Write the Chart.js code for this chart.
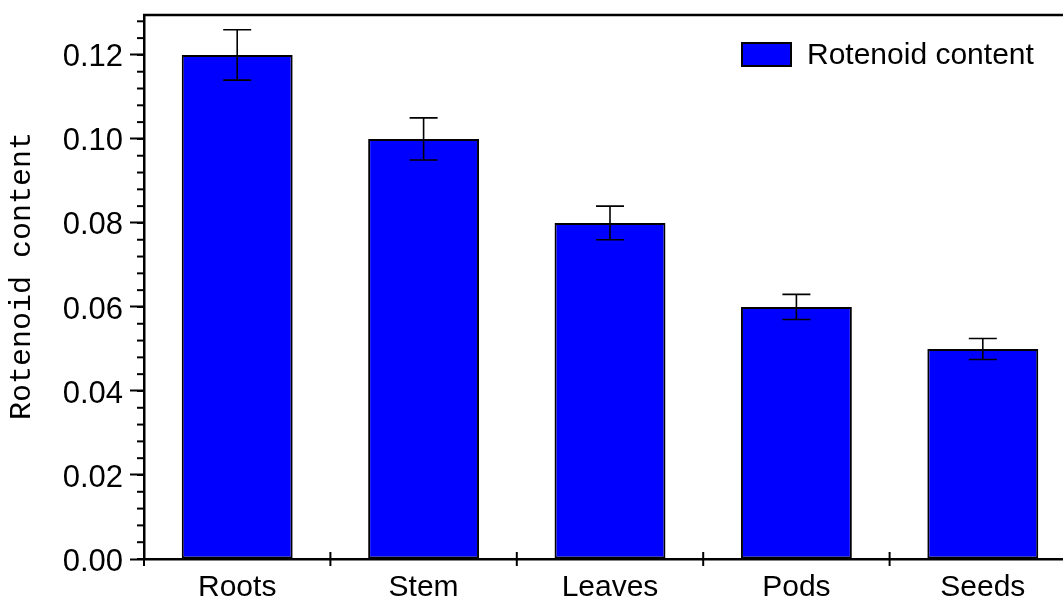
<!DOCTYPE html>
<html>
<head>
<meta charset="utf-8">
<script src="https://cdn.jsdelivr.net/npm/chart.js@4/dist/chart.umd.min.js"></script>
<style>
html,body{margin:0;padding:0;overflow:hidden;background:#fff;width:1063px;height:598px;}
#wrap{width:1080px;height:598px;}
</style>
</head>
<body>
<div id="wrap"><canvas id="c" width="1080" height="598"></canvas></div>
<script>
const categories = ["Roots", "Stem", "Leaves", "Pods", "Seeds"];
const values = [0.12, 0.10, 0.08, 0.06, 0.05];
const errors = [0.006, 0.005, 0.004, 0.003, 0.0025];
const seriesLabel = "Rotenoid content";
const axisTitle = "Rotenoid content";
const yMajorTicks = [0, 0.02, 0.04, 0.06, 0.08, 0.10, 0.12];

const FONT = "Liberation Sans, Arial, sans-serif";

const decor = {
  id: 'decor',
  afterDatasetsDraw(chart) {
    const ctx = chart.ctx;
    const xs = chart.scales.x, ys = chart.scales.y;
    const meta = chart.getDatasetMeta(0);
    ctx.save();
    // error bars
    ctx.strokeStyle = '#000';
    ctx.lineWidth = 1.6;
    meta.data.forEach((bar, i) => {
      const x = bar.x;
      const yt = ys.getPixelForValue(values[i] + errors[i]);
      const yb = ys.getPixelForValue(values[i] - errors[i]);
      ctx.beginPath();
      ctx.moveTo(x, yt); ctx.lineTo(x, yb);
      ctx.moveTo(x - 14, yt); ctx.lineTo(x + 14, yt);
      ctx.moveTo(x - 14, yb); ctx.lineTo(x + 14, yb);
      ctx.stroke();
    });
    const ca = chart.chartArea;
    // top frame
    ctx.lineWidth = 2.5;
    ctx.beginPath();
    ctx.moveTo(ca.left - 1, ca.top); ctx.lineTo(ca.right, ca.top);
    ctx.stroke();
    // minor y ticks
    ctx.lineWidth = 2;
    for (let k = 0; k <= 32; k++) {
      const v = k * 0.004;
      if (v > ys.max) break;
      const y = ys.getPixelForValue(v);
      ctx.beginPath();
      ctx.moveTo(ca.left - 7, y); ctx.lineTo(ca.left, y);
      ctx.stroke();
    }
    // x ticks at category boundaries
    for (let i = 0; i <= categories.length; i++) {
      let x;
      if (i === 0) x = ca.left;
      else if (i === categories.length) x = ca.right;
      else x = (xs.getPixelForValue(i - 1) + xs.getPixelForValue(i)) / 2;
      ctx.beginPath();
      ctx.moveTo(x, ca.bottom - (i === 0 ? 0 : 7)); ctx.lineTo(x, ca.bottom + 7);
      ctx.stroke();
    }
    // y axis title
    ctx.save();
    ctx.translate(22, 276);
    ctx.rotate(-Math.PI / 2);
    ctx.fillStyle = '#000';
    ctx.font = "30px 'Liberation Mono', 'Courier New', monospace";
    ctx.textAlign = 'center';
    ctx.textBaseline = 'middle';
    ctx.fillText(axisTitle, 0, 0);
    ctx.restore();
    // legend
    const ds = chart.data.datasets[0];
    ctx.fillStyle = ds.backgroundColor;
    ctx.fillRect(742, 43, 49, 23);
    ctx.strokeStyle = '#000';
    ctx.lineWidth = 2;
    ctx.strokeRect(742, 43, 49, 23);
    ctx.fillStyle = '#000';
    ctx.font = '30px ' + FONT;
    ctx.textBaseline = 'middle';
    ctx.textAlign = 'left';
    ctx.fillText(ds.label, 807, 56);
    ctx.restore();
  }
};

new Chart(document.getElementById('c'), {
  type: 'bar',
  data: {
    labels: categories,
    datasets: [{
      label: seriesLabel,
      data: values,
      backgroundColor: '#0000FF',
      borderColor: '#000',
      borderWidth: 2,
      borderSkipped: false,
      barPercentage: 0.595,
      categoryPercentage: 1.0
    }]
  },
  options: {
    responsive: false,
    animation: false,
    devicePixelRatio: 1,
    layout: { padding: { top: 15, right: 4, left: 0, bottom: 0 } },
    plugins: { legend: { display: false }, tooltip: { enabled: false } },
    scales: {
      x: {
        type: 'category',
        offset: true,
        grid: { display: false, drawTicks: false },
        border: { display: true, color: '#000', width: 2.5 },
        ticks: { color: '#000', font: { family: FONT, size: 30 }, padding: 11, maxRotation: 0, autoSkip: false },
        afterFit(s) { s.height = 39; s.paddingLeft = 0; s.paddingRight = 0; }
      },
      y: {
        min: 0,
        max: 0.1295,
        afterBuildTicks(s) { s.ticks = yMajorTicks.map(v => ({ value: v })); },
        ticks: {
          color: '#000',
          font: { family: FONT, size: 31 },
          padding: 7,
          labelOffset: 3,
          callback: v => Number(v).toFixed(2)
        },
        grid: { drawOnChartArea: false, drawTicks: true, tickLength: 14, tickWidth: 2, tickColor: '#000' },
        border: { display: true, color: '#000', width: 2.5 },
        title: { display: false },
        afterFit(s) { s.width = 144; s.paddingTop = 0; s.paddingBottom = 0; }
      }
    }
  },
  plugins: [decor]
});
</script>
</body>
</html>
